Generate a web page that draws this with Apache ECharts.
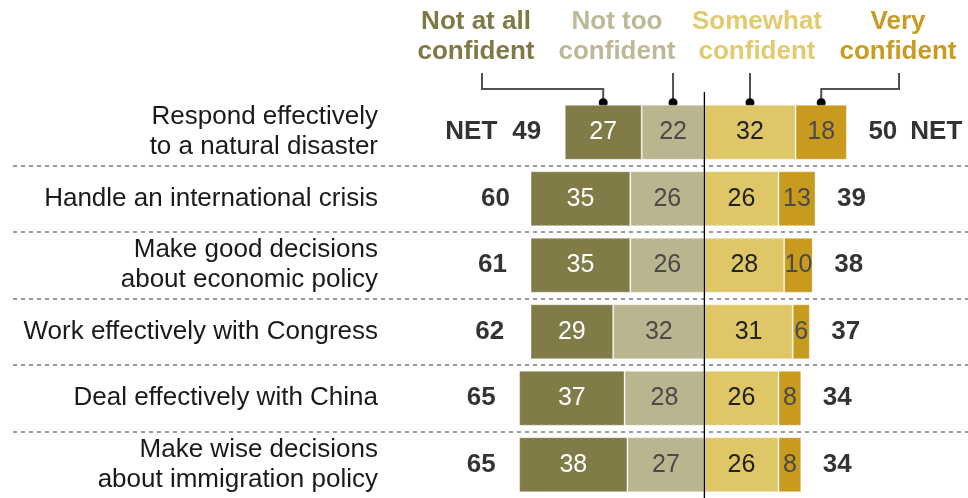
<!DOCTYPE html>
<html>
<head>
<meta charset="utf-8">
<script src="https://cdn.jsdelivr.net/npm/echarts@6/dist/echarts.min.js"></script>
<style>
  html, body { margin: 0; padding: 0; background: #fff; }
  #main { width: 968px; height: 498px; }
</style>
</head>
<body>
<div id="main"></div>
<script>
// rows, top to bottom
var categories = [
  "Respond effectively\nto a natural disaster",
  "Handle an international crisis",
  "Make good decisions\nabout economic policy",
  "Work effectively with Congress",
  "Deal effectively with China",
  "Make wise decisions\nabout immigration policy"
];
var notAtAll = [27, 35, 35, 29, 37, 38];
var notToo = [22, 26, 26, 32, 28, 27];
var somewhat = [32, 26, 28, 31, 26, 26];
var very = [18, 13, 10, 6, 8, 8];
var netNot = [49, 60, 61, 62, 65, 65];
var netConf = [50, 39, 38, 37, 34, 34];
var legendNames = ["Not at all\nconfident", "Not too\nconfident", "Somewhat\nconfident", "Very\nconfident"];

var colors = ["#817b47", "#b9b58f", "#dfc768", "#c89b1f"];
var legendColors = ["#7f7946", "#bcb898", "#e2cb6f", "#c99b20"];
var FONT = "Liberation Sans";

var myChart = echarts.init(document.getElementById("main"));

function segLabel(color) {
  return {
    show: true,
    position: "inside",
    fontFamily: FONT,
    fontSize: 25,
    color: color,
    formatter: function (p) { return Math.abs(p.value); }
  };
}

function bar(name, data, color, labelColor) {
  return {
    name: name,
    type: "bar",
    stack: "all",
    barWidth: 55,
    data: data,
    itemStyle: { color: color, borderColor: "rgba(255,255,255,0.35)", borderWidth: 1 },
    label: segLabel(labelColor)
  };
}

myChart.setOption({
  animation: false,
  grid: { left: 13, right: 0, top: 99, bottom: -2 },
  xAxis: {
    type: "value",
    min: -242.6,
    max: 92.5,
    show: false
  },
  yAxis: {
    type: "category",
    data: categories,
    inverse: true,
    offset: -365,
    axisLine: { show: false },
    axisTick: { show: false },
    axisLabel: {
      margin: 0,
      fontFamily: FONT,
      fontSize: 26,
      lineHeight: 30,
      color: "#1a1a1a",
      align: "right"
    },
    splitLine: {
      show: true,
      interval: 0,
      showMinLine: false,
      showMaxLine: false,
      lineStyle: { color: "#9a9a9a", width: 2, type: [4, 4] }
    }
  },
  series: [
    bar("Not too confident", notToo.map(function (v) { return -v; }), colors[1], "#4a4a4a"),
    bar("Not at all confident", notAtAll.map(function (v) { return -v; }), colors[0], "#ffffff"),
    bar("Somewhat confident", somewhat, colors[2], "#222222"),
    bar("Very confident", very, colors[3], "#4a4a4a"),
    {
      type: "scatter",
      symbolSize: 1,
      itemStyle: { color: "transparent" },
      data: netNot.map(function (v, i) { return [-v, i]; }),
      label: {
        show: true,
        position: "left",
        distance: 23,
        fontFamily: FONT,
        fontSize: 26,
        fontWeight: "bold",
        color: "#000",
        formatter: function (p) {
          var v = -p.value[0];
          return p.dataIndex === 0 ? "{n|NET}" + v : "" + v;
        },
        rich: { n: { fontFamily: FONT, fontSize: 26, fontWeight: "bold", color: "#000", padding: [0, 15, 0, 0] } }
      }
    },
    {
      type: "scatter",
      symbolSize: 1,
      itemStyle: { color: "transparent" },
      data: netConf.map(function (v, i) { return [v, i]; }),
      label: {
        show: true,
        position: "right",
        distance: 21,
        fontFamily: FONT,
        fontSize: 26,
        fontWeight: "bold",
        color: "#000",
        formatter: function (p) {
          var v = p.value[0];
          return p.dataIndex === 0 ? v + "{n|NET}" : "" + v;
        },
        rich: { n: { fontFamily: FONT, fontSize: 26, fontWeight: "bold", color: "#000", padding: [0, 0, 0, 13] } }
      }
    }
  ]
});

// center line, legend labels and leader lines
var toPx = function (x, row) { return myChart.convertToPixel({ gridIndex: 0 }, [x, row]); };
var zero = toPx(0, 0);
var dotY = zero[1] - 27.5 - 2;
var dotX = [
  toPx(-(notToo[0] + notAtAll[0] / 2), 0)[0],
  toPx(-notToo[0] / 2, 0)[0],
  toPx(somewhat[0] / 2, 0)[0],
  toPx(somewhat[0] + very[0] / 2, 0)[0]
];
var legendX = [476, 617, 757, 898];
var leaderStartX = [482, dotX[1], dotX[2], 899];
var leaderTop = 73, elbowY = 89;

var graphics = [{
  type: "line",
  shape: { x1: zero[0], y1: 92, x2: zero[0], y2: 498 },
  style: { stroke: "#000", lineWidth: 1.3 },
  z: 10
}];
legendNames.forEach(function (name, i) {
  graphics.push({
    type: "text",
    x: legendX[i],
    y: 37,
    style: {
      text: name,
      fill: legendColors[i],
      font: "bold 26px " + FONT,
      lineHeight: 30,
      align: "center",
      verticalAlign: "middle"
    }
  });
  var pts = leaderStartX[i] === dotX[i]
    ? [[dotX[i], leaderTop], [dotX[i], dotY]]
    : [[leaderStartX[i], leaderTop], [leaderStartX[i], elbowY], [dotX[i], elbowY], [dotX[i], dotY]];
  graphics.push({
    type: "polyline",
    shape: { points: pts },
    style: { stroke: "#505050", lineWidth: 2, fill: null }
  });
  graphics.push({
    type: "circle",
    shape: { cx: dotX[i], cy: dotY, r: 4.5 },
    style: { fill: "#000" }
  });
});
myChart.setOption({ graphic: graphics });
</script>
</body>
</html>
